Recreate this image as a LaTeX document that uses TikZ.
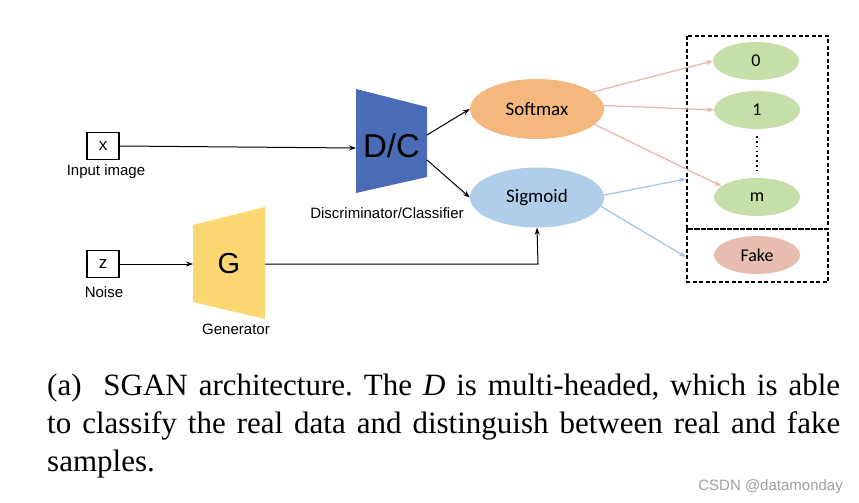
\documentclass[tikz,border=0pt]{standalone}
\usepackage{fontspec}
\setmainfont{Liberation Serif}
\newfontfamily\arialf{Liberation Sans}
\newfontfamily\calif{Carlito}
\usetikzlibrary{shapes.geometric,arrows.meta,calc}
\definecolor{dcblue}{HTML}{4A6BB6}
\definecolor{gyellow}{HTML}{FAD771}
\definecolor{smorange}{HTML}{F4B77E}
\definecolor{sgblue}{HTML}{B0CDE9}
\definecolor{cgreen}{HTML}{C6DFA8}
\definecolor{fakepink}{HTML}{E8BDB0}
\definecolor{pinkarrow}{HTML}{E8B5A8}
\definecolor{bluearrow}{HTML}{A0C4E8}
\tikzset{
  inbox/.style={draw, line width=1.2pt, minimum width=32pt, minimum height=27pt, inner sep=0pt, font=\arialf\fontsize{17}{17}\selectfont},
  lbl/.style={font=\arialf\fontsize{15}{15}\selectfont, inner sep=0pt},
  head/.style={ellipse, minimum width=134pt, minimum height=60pt, inner sep=0pt, font=\calif\fontsize{19}{19}\selectfont},
  cls/.style={ellipse, minimum width=86pt, minimum height=38pt, inner sep=0pt, fill=cgreen, font=\calif\fontsize{18}{18}\selectfont},
  blk/.style={-{Stealth[length=7pt,width=5pt]}, line width=1pt, black},
  parr/.style={-{Stealth[length=7pt,width=5pt]}, line width=1.2pt, pinkarrow},
  barr/.style={-{Stealth[length=7pt,width=5pt]}, line width=1.2pt, bluearrow},
  dbox/.style={draw, dashed, line width=1.4pt, dash pattern=on 4pt off 2.5pt},
  capline/.style={anchor=base west, inner sep=0pt, font=\fontsize{31}{31}\selectfont\frenchspacing}
}
\begin{document}
\begin{tikzpicture}[x=1pt,y=-1pt]
\useasboundingbox (0,0) rectangle (859,503);
\fill[white] (0,0) rectangle (859,503);
% inputs
\node[inbox] (x) at (103,146) {x};
\node[lbl] (xl) at (106,172) {Input image};
\node[inbox] (z) at (103,264) {z};
\node[lbl] (zl) at (104,292) {Noise};
% generator
\fill[gyellow] (193,225) -- (265,207) -- (265,319) -- (193,302) -- cycle;
\node[font=\arialf\fontsize{29}{29}\selectfont, inner sep=0pt, minimum width=72pt, minimum height=77pt] (g) at (229,264) {G};
\node[lbl] (gl) at (236,329) {Generator};
% discriminator
\fill[dcblue] (356,89) -- (427,107) -- (427,177) -- (356,193) -- cycle;
\node[font=\arialf\fontsize{33}{33}\selectfont, inner sep=0pt, minimum width=71pt, minimum height=70pt] (dc) at (391.5,146) {D/C};
\node[lbl] (dcl) at (387,213) {Discriminator/Classifier};
% heads
\node[head, fill=smorange] (sm) at (537,109) {Softmax};
\node[head, fill=sgblue] (sg) at (537,197.5) {Sigmoid};
% output boxes
\draw[dbox] (687,36) rectangle (828,229);
\draw[dbox] (687,229) rectangle (828,282);
\coordinate (dbA) at (686,179);
\coordinate (dbB) at (686,257);
\node[cls] (c0) at (756,61) {0};
\node[cls] (c1) at (757,110) {1};
\node[cls] (cm) at (757,197) {m};
\node[cls, fill=fakepink] (fk) at (757,255) {Fake};
\draw[line width=1.6pt, dash pattern=on 1.6pt off 3.2pt] ($(c1.south)+(0,7)$) coordinate (d1) -- ($(cm.north)+(0,-7)$) coordinate (d2);
% connectors
\coordinate (dcin) at (356,148);
\coordinate (dcA) at (427,135);
\coordinate (dcB) at (427,160);
\coordinate (gout) at (265,264);
\coordinate (bend) at (538,264);
\draw[blk] (x.east) -- (dcin);
\draw[blk] (z.east) -- (193,264);
\draw[blk] (dcA) -- (sm.west);
\draw[blk] (dcB) -- (sg.west);
\draw[blk] (gout) -- (bend) -- (sg.south);
\draw[parr] (sm.17) -- (c0.west);
\draw[parr] (sm.3) -- (c1.west);
\draw[parr] (sm.-15) -- (cm.163);
\draw[barr] (sg.2) -- (dbA);
\draw[barr] (sg.-8) -- (dbB);
% caption
\node[capline] (cap1) at (47,395) {\makebox[793pt][s]{(a)\ \ SGAN architecture. The \textit{D} is multi-headed, which is able}};
\node[capline] (cap2) at (47,433) {\makebox[793pt][s]{to classify the real data and distinguish between real and fake}};
\node[capline] (cap3) at (47,471) {samples.};
\node[anchor=base east, inner sep=0pt, text=gray!75, font=\arialf\fontsize{15}{15}\selectfont] (wm) at (843,490) {CSDN @datamonday};
\end{tikzpicture}
\end{document}
